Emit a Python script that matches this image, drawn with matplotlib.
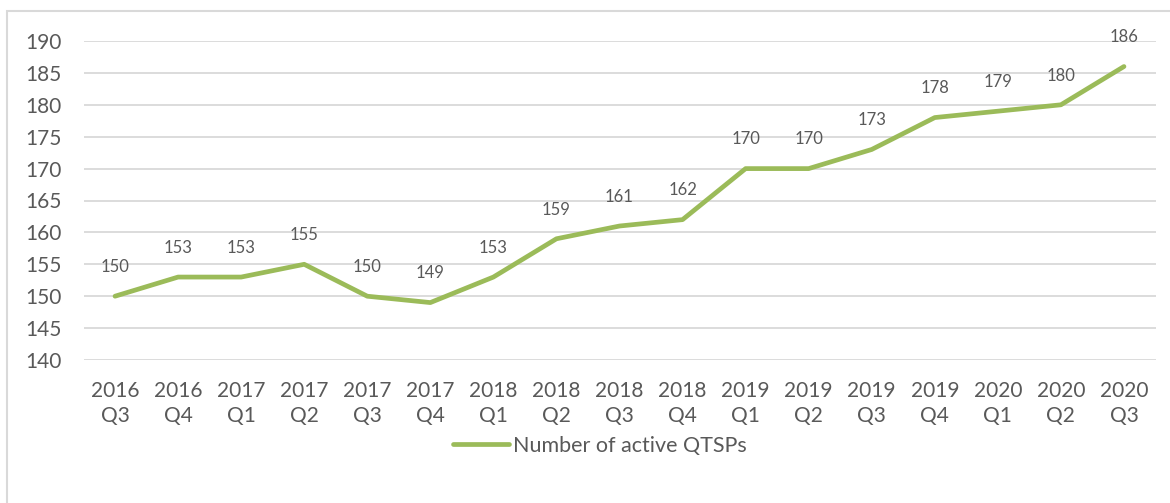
import matplotlib.pyplot as plt
from matplotlib.patches import Rectangle

# data
quarters = ["2016\nQ3", "2016\nQ4", "2017\nQ1", "2017\nQ2", "2017\nQ3", "2017\nQ4",
            "2018\nQ1", "2018\nQ2", "2018\nQ3", "2018\nQ4", "2019\nQ1", "2019\nQ2",
            "2019\nQ3", "2019\nQ4", "2020\nQ1", "2020\nQ2", "2020\nQ3"]
active_qtsps = [150, 153, 153, 155, 150, 149, 153, 159, 161, 162, 170, 170,
                173, 178, 179, 180, 186]
y_ticks = [140, 145, 150, 155, 160, 165, 170, 175, 180, 185, 190]

plt.rcParams["font.family"] = ["Lato", "DejaVu Sans"]
text_color = "#595959"
line_color = "#9BBB59"
grid_color = "#D9D9D9"

W, H = 1170, 503
fig = plt.figure(figsize=(W / 100, H / 100), dpi=100)
ax = fig.add_axes([83.5 / W, 1 - 360 / H, (1155.5 - 83.5) / W, (360 - 41) / H])

x = list(range(len(quarters)))
ax.plot(x, active_qtsps, color=line_color, lw=3.4, solid_capstyle="round",
        solid_joinstyle="round", label="Number of active QTSPs", zorder=3)

for xi, v in zip(x, active_qtsps):
    ax.annotate(str(v), (xi, v), xytext=(0, 21), textcoords="offset points",
                ha="center", va="center", fontsize=12, color=text_color)

ax.set_xlim(-0.5, len(quarters) - 0.5)
ax.set_ylim(140, 190)
ax.set_yticks(y_ticks)
ax.set_xticks(x)
ax.set_xticklabels(quarters, linespacing=1.35)
ax.tick_params(axis="both", length=0, labelsize=15, labelcolor=text_color)
ax.tick_params(axis="x", pad=15)
ax.tick_params(axis="y", pad=16)
ax.grid(axis="y", color=grid_color, lw=1.3)
ax.set_axisbelow(True)
for s in ax.spines.values():
    s.set_visible(False)

leg = fig.legend(loc="center", bbox_to_anchor=(600 / W, 1 - 446 / H), frameon=False,
                 fontsize=15.5, handlelength=2.6, handletextpad=0.2)
for t in leg.get_texts():
    t.set_color(text_color)

# outer chart border (cut off at right/bottom in the reference)
fig.patches.append(Rectangle((7 / W, -0.1), 1.2, 1 - 11 / H + 0.1, transform=fig.transFigure,
                             fill=False, edgecolor=grid_color, lw=1.5))

fig.savefig("out.png", dpi=100)
